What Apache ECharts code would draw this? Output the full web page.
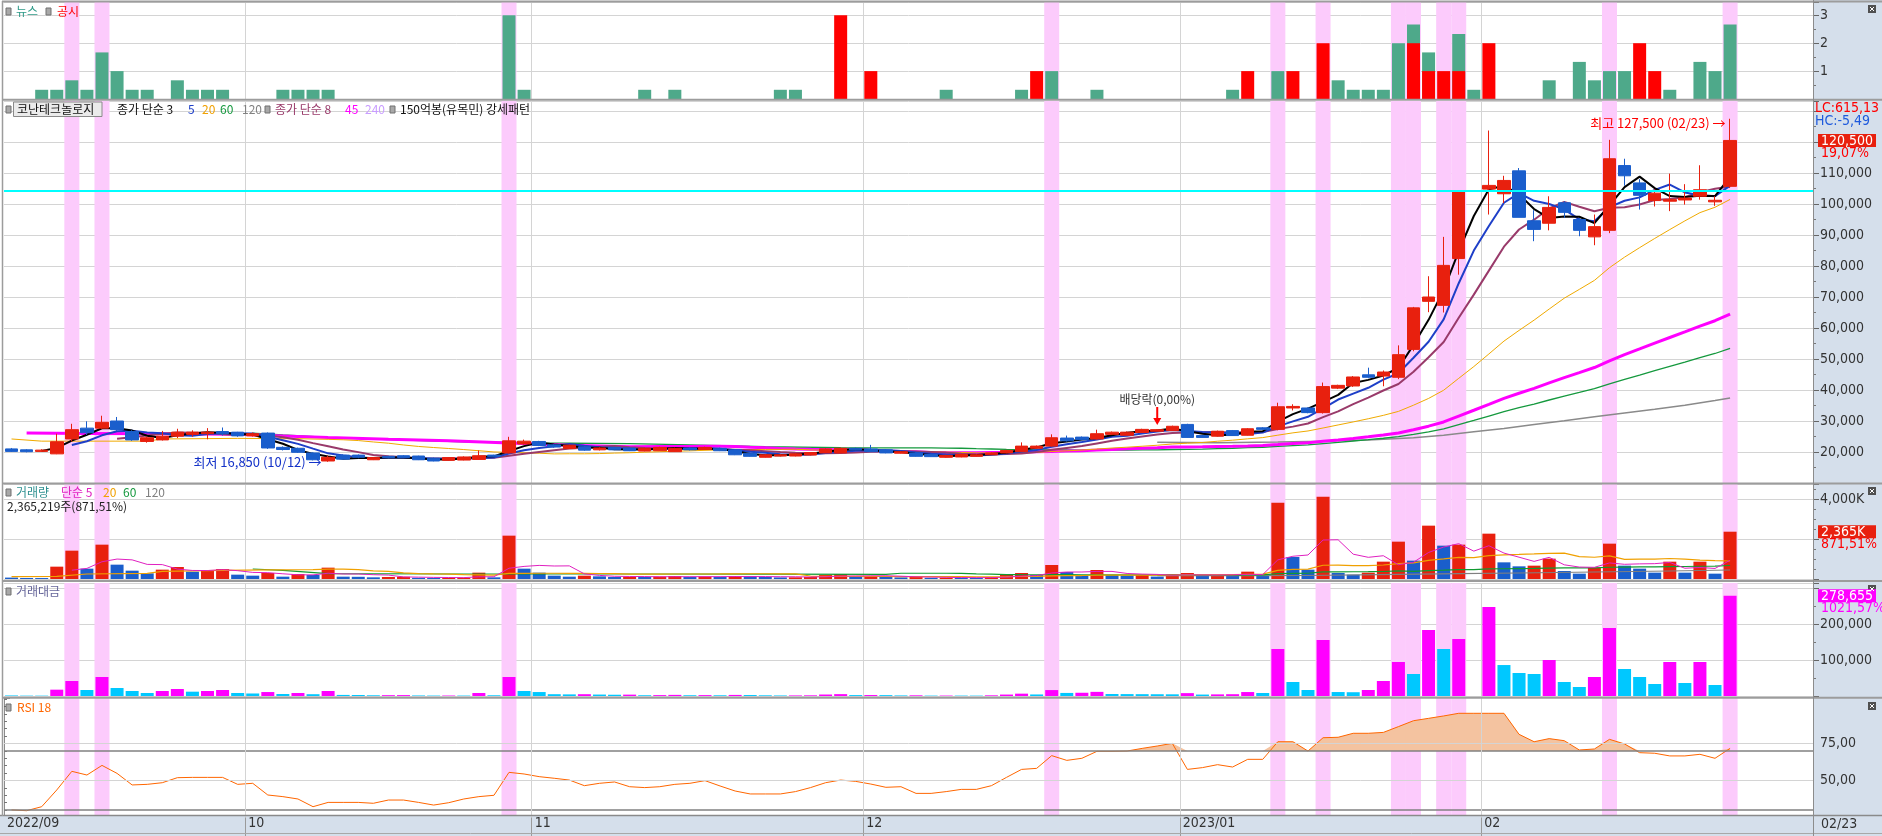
<!DOCTYPE html>
<html><head><meta charset="utf-8">
<script src="https://cdn.jsdelivr.net/npm/echarts@6/dist/echarts.min.js"></script>
<style>html,body{margin:0;padding:0;background:#fff;}#c{width:1882px;height:836px;}</style>
</head><body><div id="c"></div>
<script>
// ---------------- DATA ----------------
const dates = ['09/07','09/08','09/13','09/14','09/15','09/16','09/19','09/20','09/21','09/22','09/23','09/26','09/27','09/28','09/29','09/30',
'10/04','10/05','10/06','10/07','10/11','10/12','10/13','10/14','10/17','10/18','10/19','10/20','10/21','10/24','10/25','10/26','10/27','10/28','10/31',
'11/01','11/02','11/03','11/04','11/07','11/08','11/09','11/10','11/11','11/14','11/15','11/16','11/17','11/18','11/21','11/22','11/23','11/24','11/25','11/28','11/29','11/30',
'12/01','12/02','12/05','12/06','12/07','12/08','12/09','12/12','12/13','12/14','12/15','12/16','12/19','12/20','12/21','12/22','12/23','12/26','12/27','12/28','12/29',
'01/02','01/03','01/04','01/05','01/06','01/09','01/10','01/11','01/12','01/13','01/16','01/17','01/18','01/19','01/20','01/25','01/26','01/27','01/30','01/31',
'02/01','02/02','02/03','02/06','02/07','02/08','02/09','02/10','02/13','02/14','02/15','02/16','02/17','02/20','02/21','02/22','02/23'];

const openP  = [21000,20700,20200,19400,24200,27700,27700,30000,26600,23400, 23900,25100,25700,25900,26600,26400,25200,26100,21500,21200,
19700,17100,19000,19000,17500,18600,18800,18700,18000,17300, 17400,17600,19000,19700,22600,23400,22300,21100,21700,20700,
21500,21300,20300,20400,20100,21300,20800,21200,20700,19600, 18300,18700,18700,19000,19700,19700,21200,21000,20700,19600,
19700,19200,18300,18400,18600,19100,19700,20100,21200,21900, 24500,24800,24200,25700,25400,26300,26700,26900,28900,25300,
25100,26900,25400,27800,27300,34200,34200,32700,40600,41300, 44900,44500,44100,53100,68600,67300,82400,104100,104800,103300,
110700,94600,93800,100400,95000,89400,91500,112400,106800,101100, 100900,101300,102500,100700,105700];
const closeP = [20200,20100,20600,23300,27200,26200,29600,27200,23900,24600, 25100,26400,26400,26400,25900,25200,25900,21300,20800,19900,
17500,18300,17700,18300,18200,18200,18200,17500,17100,18200, 18400,18800,18600,23600,23500,22100,21600,22200,20600,21300,
20700,20400,21200,21500,21200,20700,21500,20400,19100,18600, 19100,19100,19400,19800,21000,21200,20700,20100,19700,20100,
18600,18500,18900,19200,19100,19700,20500,21900,21900,24600, 23600,24000,25900,26400,26400,27300,27200,28300,24700,24700,
26700,25300,27500,27300,34600,34700,32700,41100,41500,44200, 44100,45800,51400,66500,70000,80200,104100,104100,106000,107600,
95700,91800,98900,97300,91500,92700,114600,109100,102800,103500, 101400,101900,104600,101200,120500];
const lowP   = [20000,19900,20000,19300,23400,25500,27500,26800,23600,23000, 23700,24500,24900,24100,25300,24900,25000,21000,20500,19700,
17300,16850,17600,18000,17400,18000,18100,17400,17000,17200, 17300,17500,18500,19500,22400,21900,21400,21000,20400,20500,
20600,20300,20200,20300,20000,20500,20700,20300,19000,18500, 18200,18600,18600,18900,19600,19600,20600,20000,19600,19500,
18500,18400,18200,18300,18500,19000,19600,20000,21000,21700, 23400,23800,24000,25500,25300,26200,26600,26800,24600,24600,
25000,25200,25300,27200,27000,33400,32500,32400,40300,41000, 43800,41200,43500,52500,65100,65000,77200,104100,96600,100300,
95700,88000,91500,95500,89600,86700,90600,105900,98200,99200, 97700,99800,101400,99400,105200];
const highP  = [21300,20900,20900,25900,29100,29900,31700,31300,27000,25000, 26800,27500,27000,27700,27900,26500,26300,26300,21800,21400,
19900,18800,19200,19200,18400,18800,19000,18800,18200,18300, 18600,20500,19100,24900,24000,23600,22500,22400,21900,21500,
21700,21500,21400,21700,21400,21500,21700,21400,20900,19800, 19300,19300,19600,20000,21200,21400,21400,22300,20900,20300,
19900,19400,19100,19400,19300,19900,20700,23100,22100,25700, 25300,25000,27200,26600,26600,27500,27400,28500,29100,25500,
26900,27100,27700,28000,35900,35400,34400,42400,41700,44500, 47200,46300,54400,66800,76700,89400,104200,104100,123700,109100,
111600,98000,102500,100900,95500,96600,120700,114600,108000,104800, 109800,106400,112500,102500,127500];

const volumeK = [70,50,48,617,1417,517,1717,717,417,283, 467,600,367,400,500,217,167,300,117,250,
200,567,117,110,83,100,110,60,50,55, 65,317,83,2167,517,317,167,117,167,133, 100,110,
100,120,150,100,120,100,150,140,100,80, 85,100,200,250,120,130,120,80,100,60,
65,60,55,100,200,300,200,700,350,200, 450,200,180,200,120,250,300,150,200,150,
367,250,3817,1100,467,4117,300,217,317,867, 1867,917,2667,1667,1717,0,2267,833,633,667,
1017,400,267,567,1767,667,517,317,867,317, 867,267,2365];

const tradeValue = [1500,1000,980,17600,41700,16700,52800,22200,13900,8300,
13900,19400,12000,13900,16700,8300,7000,11000,5500,8300,
5000,13900,3000,2800,2000,2300,2500,1500,1200,1300,
1200,8300,2000,52800,13900,11000,5000,4500,5000,4000, 3500,3800,
2100,2500,3100,2100,2500,2000,3000,2700,1900,1500,
1600,1900,4100,5200,2500,2700,2400,1600,1900,1100,
1200,1150,1050,1900,4000,6500,4300,16500,8500,9000,
11500,5500,5300,5100,4900,4700,8000,4000,4500,5000,
11000,8300,130600,38900,16700,155600,11000,10500,16700,41700,
94500,61100,183300,130600,158300,0,247000,86000,63900,61100,
100000,38900,25000,52800,189000,75000,52800,33300,94500,36100,
94500,30600,278655];

const rsi18 = [30.1,29.6,32.3,43.6,56.2,53.7,60.2,54.8,47.0,47.4, 48.5,51.9,52.1,52.1,52.1,47.4,48.1,40.2,39.1,37.5,
32.3,35.2,35.2,35.2,34.6,36.8,36.8,35.2,33.4,35.0, 37.5,39.1,40.0,55.5,54.4,52.6,51.5,50.3,46.5,48.1, 49.0,45.8,
45.2,45.8,47.4,48.1,49.9,46.3,42.9,40.9,40.9,40.9, 42.5,45.2,48.5,50.3,49.4,47.6,45.4,45.8,41.3,41.3,
42.5,44.0,44.0,46.5,52.1,57.5,58.2,66.8,63.6,65.0, 69.7,69.7,69.9,71.7,73.3,75.1,57.5,58.7,60.7,59.1,
64.3,64.3,76.2,76.2,69.9,78.9,79.2,81.9,81.9,82.5, 86.4,90.4,92.0,93.6,95.4,95.4,95.4,95.4,81.2,76.2,
78.3,76.9,70.6,71.3,77.8,74.7,68.8,68.4,66.6,66.6, 67.7,65.0,71.7];

const newsIdx = [2,3,4,5,6,7,8,9,11,12,13,14,18,19,20,21,33,34,42,44,51,52,62,67,69,72,81,84,88,89,90,91,92,93,94,96,97,102,104,105,106,107,110,112,113,114];
const newsVal = [.33,.33,.67,.33,1.67,1,.33,.33,.67,.33,.33,.33,.33,.33,.33,.33,3,.33,.33,.33,.33,.33,.33,.33,1,.33,.33,1,.67,.33,.33,.33,2,2.67,1.67,2.33,.33,.67,1.33,.67,1,1,.33,1.33,1,2.67];
const discIdx = [55,57,68,82,85,87,93,94,95,96,98,108,109];
const discVal = [3,1,1,1,1,2,2,1,1,1,2,2,1];

const highlightIdx = [4,6,33,69,84,87,92,93,95,96,106,114];
const monthStartIdx = [0,16,35,57,78,98];
const monthLabels = ['2022/09','10','11','12','2023/01','02'];

const ma20HeadIdx = [0,2,9,10,15,18];
const ma20HeadVal = [24200,23500,23500,24200,24400,24300];
const ma45HeadIdx = [1,5,10,15,18,21,25,29,33,37,41,43];
const ma45HeadVal = [26100,26000,25900,25700,25200,24700,24100,23600,22900,22200,21700,21800];
const ma60HeadIdx = [16,18,21,25,30,35,41,45,50,55,58];
const ma60HeadVal = [26100,25500,24700,24000,23300,22900,22700,22300,21700,21400,21300];
const ma120Idx = [76,80,84,87,90,93,95,97,99,101,103,105,107,109,111,113,114];
const ma120Val = [23150,23000,23200,23450,23900,24600,25400,26500,27600,28900,30100,31400,32600,33800,35100,36600,37400];
const vma20HeadIdx = [0,3,5,9,10,14,17];
const vma20HeadVal = [117,130,250,283,383,430,460];
const vma60HeadIdx = [16,18,21,30,40,50,58];
const vma60HeadVal = [500,430,270,250,250,240,230];
const vma120Idx = [76,82,86,92,96,100,105,110,114];
const vma120Val = [170,167,175,230,267,300,350,400,450];

const patternLevel = 104200; // 150억봉(유목민) level
const dividendIdx = 76;

// ---------------- BUILD ----------------
const KR = "'Noto Sans CJK KR', 'Noto Sans', sans-serif";
const NR = "'Liberation Sans Narrow', 'DejaVu Sans Condensed', 'Liberation Sans', sans-serif";
const RED = '#e8200e', BLUE = '#1a5ecc', MAG = '#ff00ff', CYAN = '#00c8ff', PINK = '#fccbfc';
const N = dates.length;
const cats = dates.concat(['+1','+2','+3','+4','+5']);

function sma(src, n){ return src.map((_, i) => { if (i < n-1) return null; let s = 0; for (let j=i-n+1;j<=i;j++) s += src[j]; return s/n; }); }
function withPts(base, idx, val){ const o = base.slice(); idx.forEach((k,j)=>{ if (o[k]==null) o[k]=val[j]; }); return o; }
function sparse(idx, val){ const o = new Array(N).fill(null); idx.forEach((k,j)=>{ o[k]=val[j]; }); return o; }

const ma3 = sma(closeP,3), ma5 = sma(closeP,5), ma8 = sma(closeP,8);
const ma20 = withPts(sma(closeP,20), ma20HeadIdx, ma20HeadVal);
const ma45 = withPts(sma(closeP,45), ma45HeadIdx, ma45HeadVal);
const ma60 = withPts(sma(closeP,60), ma60HeadIdx, ma60HeadVal);
const ma120 = sparse(ma120Idx, ma120Val);
const vma5 = sma(volumeK,5);
const vma20 = withPts(sma(volumeK,20), vma20HeadIdx, vma20HeadVal);
const vma60 = withPts(sma(volumeK,60), vma60HeadIdx, vma60HeadVal);
const vma120 = sparse(vma120Idx, vma120Val);

const gridDefs = [
  {top:2, height:97}, {top:101, height:382}, {top:484, height:95}, {top:583, height:113}, {top:698, height:119.5}
];
const yMin = [0, 10000, 0, 0, 25];
const yMax = [3.477, 133226, 4750, 313889, 105.74];

const grids = gridDefs.map(g => ({left:4, right:69, top:g.top, height:g.height, containLabel:false}));

const isMonth = (i) => monthStartIdx.indexOf(i) > 0;
const xAxes = [];
for (let g=0; g<5; g++) {
  xAxes.push({gridIndex:g, type:'category', data:cats, boundaryGap:true,
    axisLine:{show:false}, axisTick: g===4 ? {show:true, interval:(i)=>isMonth(i), length:21, lineStyle:{color:'#9a9a9a'}} : {show:false},
    axisLabel:{show:false}, z: g===4 ? 10 : 0,
    splitLine:{show:true, interval:(i)=>isMonth(i), lineStyle:{color:'#d4d4d4', width:1}}});
}
xAxes.push({gridIndex:4, type:'value', min:0, max:120, interval:1, position:'bottom', z:10,
  axisLine:{show:false}, axisTick:{show:false}, splitLine:{show:false},
  axisLabel:{show:true, align:'left', margin:-1, padding:[0,0,0,3], color:'#333', fontSize:14, fontFamily:NR,
    formatter:(v)=>{ const j = monthStartIdx.indexOf(v); return j>=0 ? monthLabels[j] : ''; }}});
for (let g=0; g<5; g++) {
  xAxes.push({gridIndex:g, type:'category', data:cats, boundaryGap:true, show:false});
}

function yAx(g, interval, split, fmt, showSplit){
  return {gridIndex:g, type:'value', position:'right', min:yMin[g], max:yMax[g], interval:interval,
    axisLine:{show:true, lineStyle:{color:'#8c8c8c', width:1}},
    axisTick:{show:true, length:6, lineStyle:{color:'#666'}},
    minorTick:{show:true, splitNumber:split, length:3, lineStyle:{color:'#777'}},
    minorSplitLine:{show:false},
    axisLabel:{color:'#333', fontSize:14, fontFamily:NR, margin:7, formatter:fmt},
    splitLine:{show:showSplit, lineStyle:{color:'#d4d4d4', width:1}}};
}
const fmtK = (v)=> v.toLocaleString('en-US');
const yAxes = [
  yAx(0, 1, 2, (v)=> (v>=1 && v<=3 && Number.isInteger(v)) ? String(v) : '', true),
  yAx(1, 10000, 2, (v)=> (v>=20000 && v<=110000 && v%10000===0) ? fmtK(v) : '', true),
  yAx(2, 2000, 4, (v)=> v===4000 ? '4,000K' : '', true),
  yAx(3, 100000, 2, (v)=> (v===100000 || v===200000) ? fmtK(v) : '', true),
  yAx(4, 25, 5, (v)=> (v===50 || v===75) ? v.toFixed(2).replace('.', ',') : '', false)
];

const series = [];
// highlight bands
for (let g=0; g<5; g++) {
  series.push({type:'bar', xAxisIndex:6+g, yAxisIndex:g, silent:true, z:1, barWidth:15,
    itemStyle:{color:PINK}, data:cats.map((_,i)=> highlightIdx.includes(i) ? yMax[g] : null)});
}
// news / disclosure
series.push({type:'bar', name:'뉴스', xAxisIndex:0, yAxisIndex:0, barWidth:13, barGap:'-100%', z:2,
  itemStyle:{color:'#4ea98a'}, data:sparse(newsIdx, newsVal)});
series.push({type:'bar', name:'공시', xAxisIndex:0, yAxisIndex:0, barWidth:13, barGap:'-100%', z:3,
  itemStyle:{color:'#ff0000'}, data:sparse(discIdx, discVal)});

// price
function maLine(data, color, width, xi, yi, z){
  return {type:'line', xAxisIndex:xi, yAxisIndex:yi, data:data, symbol:'none', connectNulls:true, silent:true, z:z||4,
    lineStyle:{color:color, width:width}, emphasis:{disabled:true}};
}
series.push(maLine(ma120, '#8a8a8a', 1.5, 1, 1, 3));
series.push(maLine(ma60, '#15993e', 1.3, 1, 1, 3));
series.push(maLine(ma45, '#ff00ff', 3, 1, 1, 3));
series.push(maLine(ma20, '#f0aa00', 1, 1, 1, 3));
series.push(maLine(ma8, '#993a6a', 2, 1, 1, 3));
series.push(maLine(ma5, '#1e3fc8', 2, 1, 1, 3));
series.push(maLine(ma3, '#000000', 2, 1, 1, 3));

const candleData = openP.map((o,i)=>[o, closeP[i], lowP[i], highP[i]]);
series.push({type:'candlestick', xAxisIndex:1, yAxisIndex:1, barWidth:13, z:5,
  itemStyle:{color:RED, color0:BLUE, borderColor:RED, borderColor0:BLUE, borderWidth:1},
  data:candleData,
  markLine:{silent:true, symbol:['none','none'], label:{show:false}, z:7,
    lineStyle:{color:'#00ffff', width:2, type:'solid'}, data:[{yAxis:patternLevel}]},
  markPoint:{silent:true, symbol:'circle', symbolSize:1, itemStyle:{color:'rgba(0,0,0,0)'}, z:8,
    data:[
      {coord:[N-1, highP[N-1]], label:{show:true, position:'left', distance:4, offset:[0,4],
        formatter:'최고 ' + fmtK(highP[N-1]) + ' (' + dates[N-1] + ') →', color:'#ff0000', fontSize:13, fontFamily:KR}},
      {coord:[21, lowP[21]], label:{show:true, position:'left', distance:6, offset:[0,0],
        formatter:'최저 ' + fmtK(lowP[21]) + ' (' + dates[21] + ') →', color:'#1432c8', fontSize:13, fontFamily:KR}},
      {coord:[dividendIdx, highP[dividendIdx]], symbol:'path://M3,0 L5,0 L5,11 L8,11 L4,18 L0,11 L3,11 Z', symbolSize:[8,18],
        symbolOffset:[0,-13], itemStyle:{color:'#ff0000'},
        label:{show:true, position:'top', distance:2, formatter:'배당락(0,00%)', color:'#333', fontSize:12, fontFamily:KR}}
    ]}
});

// volume
series.push({type:'bar', xAxisIndex:2, yAxisIndex:2, barWidth:13, z:2,
  data:volumeK.map((v,i)=>({value:v || null, itemStyle:{color:(i>0 && v>=volumeK[i-1]) ? RED : BLUE}}))});
series.push(maLine(vma120, '#808080', 1.2, 2, 2));
series.push(maLine(vma60, '#109a30', 1.2, 2, 2));
series.push(maLine(vma20, '#f0a000', 1.2, 2, 2));
series.push(maLine(vma5, '#e020c0', 1, 2, 2));

// trading value
series.push({type:'bar', xAxisIndex:3, yAxisIndex:3, barWidth:13, z:2,
  data:tradeValue.map((v,i)=>({value:v || null, itemStyle:{color:(i>0 && v>=tradeValue[i-1]) ? MAG : CYAN}}))});

// RSI
series.push({type:'line', xAxisIndex:4, yAxisIndex:4, symbol:'none', silent:true, z:2,
  lineStyle:{width:0, opacity:0}, areaStyle:{origin:70, color:'#f4c3a0', opacity:1},
  data:rsi18.map(v=> Math.max(v,70))});
series.push({type:'line', xAxisIndex:4, yAxisIndex:4, symbol:'none', silent:true, z:4,
  lineStyle:{color:'#ff6600', width:1}, data:rsi18,
  markLine:{silent:true, symbol:['none','none'], label:{show:false},
    data:[
      {yAxis:75, lineStyle:{color:'#d4d4d4', width:1, type:'solid'}},
      {yAxis:50, lineStyle:{color:'#d4d4d4', width:1, type:'solid'}},
      {yAxis:70, lineStyle:{color:'#808080', width:1.5, type:'solid'}},
      {yAxis:30, lineStyle:{color:'#808080', width:1.5, type:'solid'}}
    ]}});

// ---------------- GRAPHICS (decor & legends) ----------------
function txt(x, y, s, color, size, font){ return {type:'text', x:x, y:y, z:30, silent:true,
  style:{text:s, fill:color, fontSize:size||12, fontFamily:font||KR, verticalAlign:'middle'}}; }
function sq(x, y){ return {type:'rect', z:30, silent:true, shape:{x:x, y:y, width:5, height:7}, style:{fill:'#a8a8a8', stroke:'#707070', lineWidth:1}}; }
function hline(y, x1, x2, c, w){ return {type:'line', z:25, silent:true, shape:{x1:x1, y1:y, x2:x2, y2:y}, style:{stroke:c, lineWidth:w}}; }
function closeBox(y){ return [
  {type:'rect', z:30, silent:true, shape:{x:1868, y:y, width:8, height:8}, style:{fill:'#505050'}},
  {type:'line', z:31, silent:true, shape:{x1:1870, y1:y+2, x2:1874, y2:y+6}, style:{stroke:'#fff', lineWidth:1}},
  {type:'line', z:31, silent:true, shape:{x1:1874, y1:y+2, x2:1870, y2:y+6}, style:{stroke:'#fff', lineWidth:1}}]; }

const staticG = [
  {type:'rect', z:-10, silent:true, shape:{x:1813, y:0, width:69, height:836}, style:{fill:'#d5dfeb'}},
  {type:'rect', z:6, silent:true, shape:{x:0, y:816, width:1882, height:20}, style:{fill:'#d5dfeb'}},
  hline(815.5, 0, 1882, '#8a8a8a', 1.5),
  hline(833.5, 0, 1882, '#a8a8a8', 1),
  hline(1.5, 2, 1882, '#9c9c9c', 2),
  hline(99.8, 2, 1882, '#9c9c9c', 2),
  hline(483.5, 2, 1882, '#9c9c9c', 2),
  hline(581, 2, 1882, '#9c9c9c', 2),
  hline(697.8, 2, 1882, '#9c9c9c', 2),
  {type:'line', z:25, silent:true, shape:{x1:2.5, y1:1, x2:2.5, y2:816}, style:{stroke:'#9c9c9c', lineWidth:1.5}},
  {type:'line', z:25, silent:true, shape:{x1:1813.5, y1:0, x2:1813.5, y2:836}, style:{stroke:'#8c8c8c', lineWidth:1}},
  // news legend
  sq(6,8), txt(16,11,'뉴스','#2e9a88'), sq(46,8), txt(57,11,'공시','#ff0000'),
  // price legend
  sq(6,106),
  {type:'rect', z:29, silent:true, shape:{x:13.5, y:102, width:88.5, height:14.5}, style:{fill:'#ebebeb', stroke:'#8a8a8a', lineWidth:1}},
  txt(17,109.5,'코난테크놀로지','#111'),
  txt(117,109.5,'종가 단순 3','#111'), txt(188,109.5,'5','#1e3fc8'), txt(202,109.5,'20','#f0a000'),
  txt(220,109.5,'60','#15993e'), txt(242,109.5,'120','#808080'),
  sq(265,106), txt(275,109.5,'종가 단순 8','#993a6a'), txt(345,109.5,'45','#ff00ff'), txt(365,109.5,'240','#c89cff'),
  sq(390,106), txt(400,109.5,'150억봉(유목민) 강세패턴','#111'),
  // volume legend
  sq(6,489), txt(16,492.5,'거래량','#2e9090'), txt(61,492.5,'단순 5','#e020c0'), txt(103,492.5,'20','#f0a000'),
  txt(123,492.5,'60','#15993e'), txt(145,492.5,'120','#808080'),
  txt(7,506,'2,365,219주(871,51%)','#222'),
  // value legend
  sq(6,588), txt(16,591.5,'거래대금','#66669a'),
  // rsi legend
  sq(6,704), txt(17,707.5,'RSI 18','#ff6600'),
  // right info
  txt(1815,108.5,'LC:615,13','#ff0000',14,NR), txt(1815,121,'HC:-5,49','#1e5adc',14,NR),
  txt(1821,824,dates[N-1],'#333',14,NR)
].concat(closeBox(5), closeBox(487), closeBox(585), closeBox(702));

const option = {
  animation:false,
  backgroundColor:'#ffffff',
  grid:grids, xAxis:xAxes, yAxis:yAxes, series:series,
  graphic:staticG
};
const chart = echarts.init(document.getElementById('c'), null, {renderer:'canvas'});
chart.setOption(option);

// value tags positioned through the axes' scales
const yP = chart.convertToPixel({yAxisIndex:1}, closeP[N-1]);
const yV = chart.convertToPixel({yAxisIndex:2}, volumeK[N-1]);
const yT = chart.convertToPixel({yAxisIndex:3}, tradeValue[N-1]);
const chg = ((closeP[N-1]/closeP[N-2]-1)*100).toFixed(2).replace('.', ',') + '%';
function tag(y, fill, s1, s2, c2){ return [
  {type:'rect', z:30, silent:true, shape:{x:1818, y:y-6.5, width:58, height:13}, style:{fill:fill}},
  txt(1821, y+0.5, s1, '#ffffff', 14, NR), txt(1821, y+12.5, s2, c2, 14, NR)]; }
const tagG = [].concat(
  tag(yP, RED, fmtK(closeP[N-1]), chg, '#ff0000'),
  tag(yV, RED, fmtK(volumeK[N-1]) + 'K', '871,51%', '#ff0000'),
  tag(yT, MAG, fmtK(tradeValue[N-1]), '1021,57%', '#ff00ff'));
chart.setOption({graphic: staticG.concat(tagG)});
</script></body></html>
